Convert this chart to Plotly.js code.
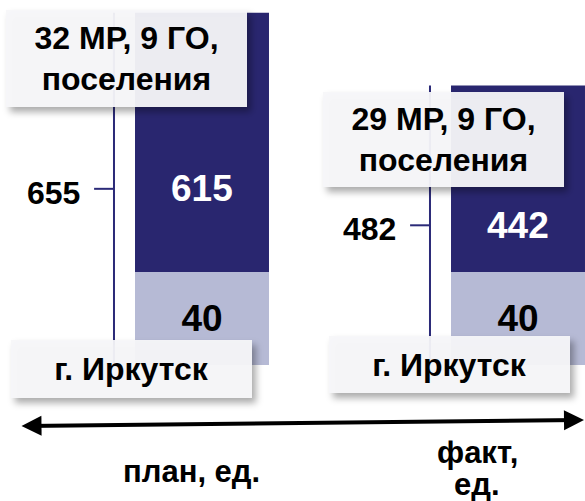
<!DOCTYPE html>
<html>
<head>
<meta charset="utf-8">
<script src="https://cdn.plot.ly/plotly-3.0.1.min.js"></script>
<style>
  html, body { margin: 0; padding: 0; background: #fff; }
  #chart { width: 585px; height: 501px; }
  g.annotation rect.bg { filter: url(#shd); }
</style>
</head>
<body>
<svg width="0" height="0" style="position:absolute">
  <defs>
    <filter id="shd" x="-20%" y="-30%" width="150%" height="180%">
      <feDropShadow dx="4" dy="5" stdDeviation="3.5" flood-color="#000" flood-opacity="0.35"/>
    </filter>
  </defs>
</svg>
<div id="chart"></div>
<script>
// ---- data ----
const categories = ["план, ед.", "факт, ед."];
const categoryLabelLines = [["план, ед."], ["факт,", "ед."]];
const districtValues = [615, 442];        // МР, ГО, поселения
const cityValues = [40, 40];              // г. Иркутск
const districtLabels = ["32 МР, 9 ГО,<br>поселения", "29 МР, 9 ГО,<br>поселения"];
const cityLabel = "г. Иркутск";
const totals = districtValues.map((v, i) => v + cityValues[i]);

// ---- layout constants ----
const W = 585, H = 501;
const darkDomain = [1 - 272 / H, 1];
const lightDomain = [1 - 365 / H, 1 - 272 / H];
const darkMax = 645;
const barWidth = 0.424;
const xIdx = [0, 1];
const FONT = '"Liberation Sans", Arial, sans-serif';
const darkColor = '#29266f';
const lightColor = '#b6bad5';

function darkTopPaper(v) {
  return darkDomain[0] + v / darkMax * (darkDomain[1] - darkDomain[0]);
}

const traces = [
  {
    type: 'bar', x: xIdx, y: districtValues, width: barWidth,
    marker: { color: darkColor, line: { width: 0 } },
    xaxis: 'x', yaxis: 'y', hoverinfo: 'skip', showlegend: false
  },
  {
    type: 'bar', x: xIdx, y: cityValues, width: barWidth,
    marker: { color: lightColor, line: { width: 0 } },
    text: cityValues.map(String), textposition: 'inside', insidetextanchor: 'middle',
    textangle: 0, constraintext: 'none',
    textfont: { family: FONT, size: 37, color: '#000', weight: 700 },
    xaxis: 'x', yaxis: 'y2', hoverinfo: 'skip', showlegend: false
  }
];

const shapes = [];
const annotations = [];

xIdx.forEach((xi, i) => {
  const lineX = xi - barWidth / 2 - 0.0665;
  const tickX0 = lineX - 0.063;
  const yBottom = lightDomain[0];
  const yTop = darkTopPaper(districtValues[i]);
  const yMid = (yBottom + yTop) / 2;
  shapes.push({ type: 'line', xref: 'x', yref: 'paper', x0: lineX, x1: lineX, y0: yBottom, y1: yTop,
    line: { color: '#2b2a78', width: 2 }, layer: 'above' });
  shapes.push({ type: 'line', xref: 'x', yref: 'paper', x0: tickX0, x1: lineX, y0: yMid, y1: yMid,
    line: { color: '#2b2a78', width: 2 }, layer: 'above' });
  annotations.push({ xref: 'x', yref: 'paper', x: tickX0, y: yMid, xanchor: 'right', yanchor: 'middle',
    xshift: -12, yshift: -4, text: String(totals[i]), showarrow: false,
    font: { family: FONT, size: 32, color: '#000', weight: 700 } });
  annotations.push({ xref: 'x', yref: 'paper', x: xi, y: yMid, xanchor: 'center', yanchor: 'middle',
    text: String(districtValues[i]), showarrow: false,
    font: { family: FONT, size: 37, color: '#fff', weight: 700 } });
});

// label boxes
const boxBg = 'rgba(246,246,249,0.94)';
const topBoxes = [
  { x: 126.5, y: 58.5, h: 97 },
  { x: 443.5, y: 139.5, h: 95 }
];
topBoxes.forEach((b, i) => {
  annotations.push({ xref: 'paper', yref: 'paper', x: b.x / W, y: 1 - b.y / H, xanchor: 'center', yanchor: 'middle',
    text: districtLabels[i], showarrow: false, width: 241, height: b.h, bgcolor: boxBg, borderpad: 0, borderwidth: 0,
    align: 'center', valign: 'middle',
    font: { family: FONT, size: 32, color: '#000', weight: 700 } });
});
const cityBoxes = [
  { x: 131.5, y: 369, h: 58 },
  { x: 449, y: 364.5, h: 57 }
];
cityBoxes.forEach((b) => {
  annotations.push({ xref: 'paper', yref: 'paper', x: b.x / W, y: 1 - b.y / H, xanchor: 'center', yanchor: 'middle',
    text: cityLabel, showarrow: false, width: 241, height: b.h, bgcolor: boxBg, borderpad: 0, borderwidth: 0,
    align: 'center', valign: 'middle',
    font: { family: FONT, size: 32, color: '#000', weight: 700 } });
});

// double-headed arrow
annotations.push({ xref: 'paper', yref: 'paper', x: 585 / W, y: 1 - 420 / H, text: '', showarrow: true,
  ax: -565, ay: 6, arrowside: 'end+start', arrowhead: 2, startarrowhead: 2, arrowsize: 1, startarrowsize: 1,
  arrowwidth: 4, arrowcolor: '#000', standoff: 0, startstandoff: 0 });

// category labels (one annotation per line)
const catPos = [{ x: 191, ys: [471] }, { x: 477, ys: [452, 484] }];
catPos.forEach((p, i) => {
  categoryLabelLines[i].forEach((line, j) => {
    annotations.push({ xref: 'paper', yref: 'paper', x: p.x / W, y: 1 - p.ys[j] / H, xanchor: 'center', yanchor: 'middle',
      text: line, showarrow: false, align: 'center',
      font: { family: FONT, size: 31, color: '#000', weight: 700 } });
  });
});

const layout = {
  width: W, height: H,
  margin: { l: 0, r: 0, t: 0, b: 0, pad: 0 },
  paper_bgcolor: '#fff', plot_bgcolor: 'rgba(0,0,0,0)',
  font: { family: FONT },
  showlegend: false,
  hovermode: false,
  xaxis: { range: [-202 / 316, 383 / 316], domain: [0, 1], visible: false, fixedrange: true },
  yaxis: { domain: darkDomain, range: [0, darkMax], visible: false, fixedrange: true },
  yaxis2: { domain: lightDomain, range: [0, cityValues[0]], visible: false, fixedrange: true, anchor: 'x' },
  shapes: shapes,
  annotations: annotations
};

Plotly.newPlot('chart', traces, layout, { displayModeBar: false, staticPlot: true });
</script>
</body>
</html>
